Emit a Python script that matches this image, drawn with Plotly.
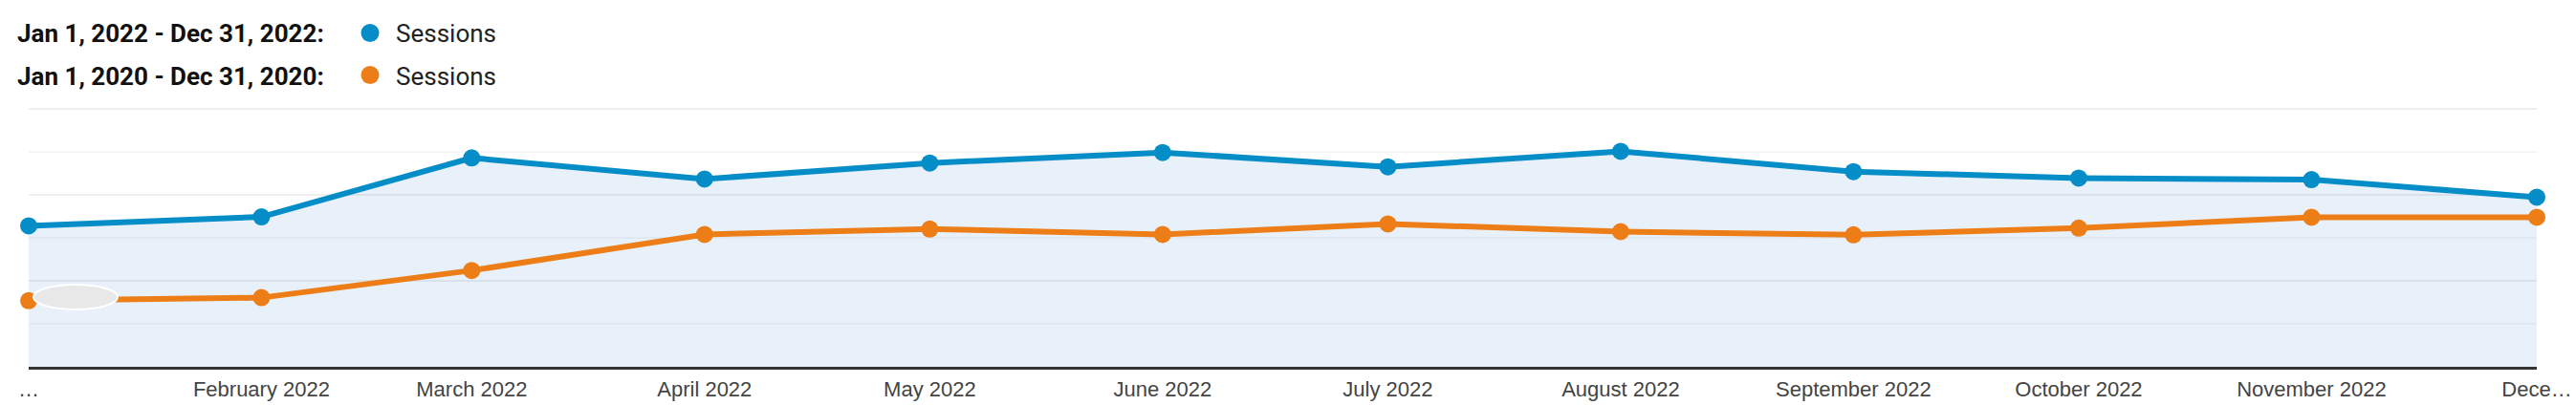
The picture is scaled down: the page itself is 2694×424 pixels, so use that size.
import plotly.graph_objects as go

# ---- data ----
months = ["2022-01-01", "2022-02-01", "2022-03-01", "2022-04-01", "2022-05-01", "2022-06-01",
          "2022-07-01", "2022-08-01", "2022-09-01", "2022-10-01", "2022-11-01", "2022-12-01"]
tick_labels = ["…", "February 2022", "March 2022", "April 2022", "May 2022", "June 2022",
               "July 2022", "August 2022", "September 2022", "October 2022", "November 2022", "Dece…"]
sessions_2022 = [1637, 1741, 2426, 2181, 2367, 2489, 2322, 2503, 2267, 2192, 2174, 1970]
sessions_2020 = [767, 803, 1119, 1537, 1600, 1537, 1659, 1570, 1533, 1611, 1737, 1737]
range_2022 = "Jan 1, 2022 - Dec 31, 2022:"
range_2020 = "Jan 1, 2020 - Dec 31, 2020:"
series_name = "Sessions"

BLUE = "#058DC7"
ORANGE = "#ED7E17"

W, H = 2694, 424
Y_TOP_GRID = 3000
Y_MAX = 3040
AXIS_Y = 384          # pixel row of the x axis line
TOP_GRID_Y = 114      # pixel row of the top gridline
ML, MR, MB = 30, 41, H - AXIS_Y
PH = (AXIS_Y - TOP_GRID_Y) * Y_MAX / Y_TOP_GRID
MT = AXIS_Y - PH
PW = W - ML - MR


def px(x):
    return (x - ML) / PW


def py(y):
    return (AXIS_Y - y) / PH


fig = go.Figure()
fig.add_trace(go.Scatter(
    x=months, y=sessions_2022, mode="lines+markers", name=range_2022 + " " + series_name,
    line=dict(color=BLUE, width=6), marker=dict(color=BLUE, size=18),
    fill="tozeroy", fillcolor="rgba(25,115,205,0.1)", cliponaxis=False,
))
fig.add_trace(go.Scatter(
    x=months, y=sessions_2020, mode="lines+markers", name=range_2020 + " " + series_name,
    line=dict(color=ORANGE, width=6), marker=dict(color=ORANGE, size=18),
    cliponaxis=False,
))

annotations = []
shapes = []
for label, color, yc in [(range_2022, BLUE, 36), (range_2020, ORANGE, 80)]:
    annotations.append(dict(
        x=px(16), y=py(yc), xref="paper", yref="paper", xanchor="left", yanchor="middle",
        text="<b>" + label + "</b>", showarrow=False,
        font=dict(family="Roboto", size=26, color="#111111"),
    ))
    annotations.append(dict(
        x=px(412), y=py(yc), xref="paper", yref="paper", xanchor="left", yanchor="middle",
        text=series_name, showarrow=False,
        font=dict(family="Roboto", size=26, color="#222222"),
    ))
    shapes.append(dict(
        type="circle", xref="paper", yref="paper", xsizemode="pixel", ysizemode="pixel",
        xanchor=px(387), yanchor=py(yc - 1), x0=-9.5, x1=9.5, y0=-9.5, y1=9.5,
        fillcolor=color, line=dict(width=0),
    ))

# redaction blob near the first orange point
shapes.append(dict(
    type="circle", xref="paper", yref="paper", xsizemode="pixel", ysizemode="pixel",
    xanchor=px(79), yanchor=py(311), x0=-44, x1=44, y0=-13, y1=13,
    fillcolor="#e8e8e8", line=dict(color="white", width=2), layer="above",
))

fig.update_layout(
    template="none",
    width=W, height=H,
    margin=dict(l=ML, r=MR, t=MT, b=MB, pad=0, autoexpand=False),
    paper_bgcolor="white", plot_bgcolor="white",
    showlegend=False,
    annotations=annotations, shapes=shapes,
    xaxis=dict(
        type="date", range=[months[0], months[-1]], automargin=False,
        tickvals=months, ticktext=tick_labels,
        showgrid=False, zeroline=False,
        showline=True, linecolor="#333333", linewidth=2.5,
        ticks="", ticklabelstandoff=2,
        tickfont=dict(family="Liberation Sans", size=22, color="#444444"),
    ),
    yaxis=dict(
        range=[0, Y_MAX], tick0=0, dtick=1000, showticklabels=False, automargin=False,
        showgrid=True, gridcolor="#efefef", gridwidth=2,
        minor=dict(tick0=0, dtick=500, showgrid=True, gridcolor="#f6f6f6", gridwidth=2),
        zeroline=False, showline=False, ticks="",
    ),
)

fig.write_html("out.html")
